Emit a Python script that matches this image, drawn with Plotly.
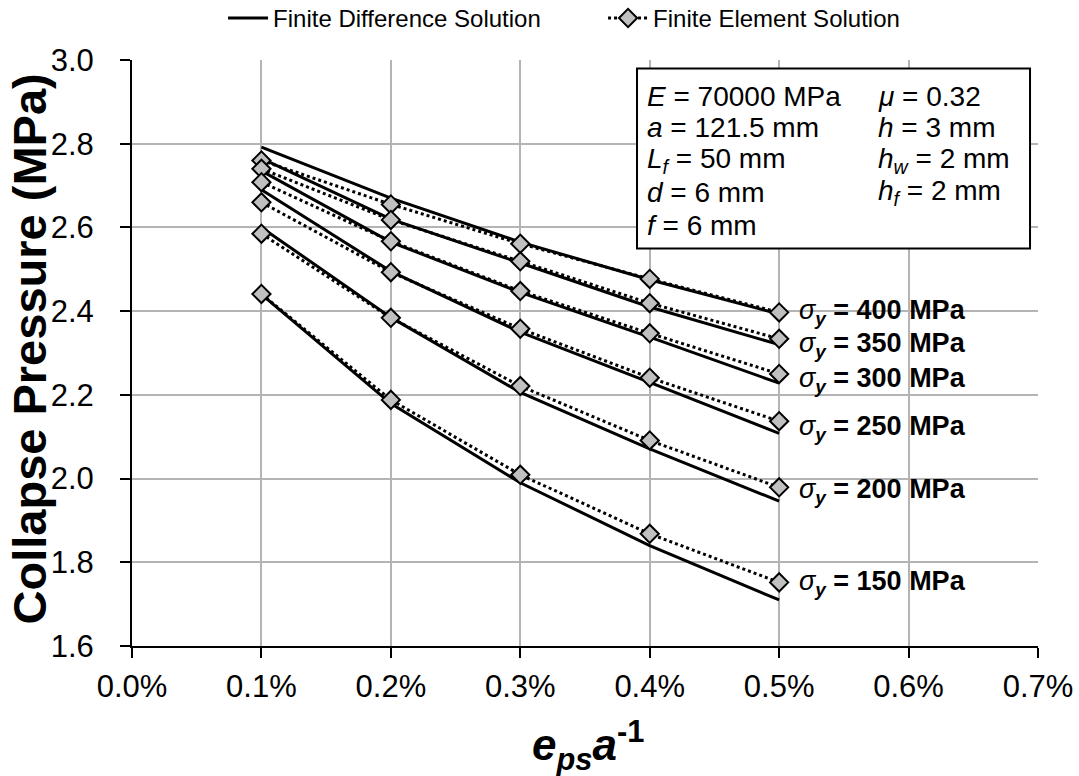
import plotly.graph_objects as go

# ---- data ----
strain = [0.001, 0.002, 0.003, 0.004, 0.005]
yield_labels = ["400", "350", "300", "250", "200", "150"]

fd_400 = [2.792, 2.670, 2.565, 2.475, 2.393]
fd_350 = [2.765, 2.620, 2.515, 2.410, 2.320]
fd_300 = [2.735, 2.565, 2.445, 2.338, 2.228]
fd_250 = [2.690, 2.495, 2.350, 2.230, 2.108]
fd_200 = [2.600, 2.385, 2.206, 2.071, 1.946]
fd_150 = [2.440, 2.179, 1.990, 1.840, 1.710]

fe_400 = [2.760, 2.655, 2.561, 2.477, 2.397]
fe_350 = [2.740, 2.618, 2.519, 2.419, 2.334]
fe_300 = [2.708, 2.567, 2.448, 2.347, 2.250]
fe_250 = [2.660, 2.493, 2.358, 2.241, 2.137]
fe_200 = [2.585, 2.384, 2.221, 2.091, 1.979]
fe_150 = [2.441, 2.188, 2.009, 1.868, 1.752]

fd_series = [fd_400, fd_350, fd_300, fd_250, fd_200, fd_150]
fe_series = [fe_400, fe_350, fe_300, fe_250, fe_200, fe_150]

x_ticks = [0.000, 0.001, 0.002, 0.003, 0.004, 0.005, 0.006, 0.007]
y_ticks = [1.6, 1.8, 2.0, 2.2, 2.4, 2.6, 2.8, 3.0]

FONT = "Liberation Sans, Arial, sans-serif"

# pixel nudges for the yield-stress labels (layout only)
label_yshift = [0, -6, -6, -7, -4, -1]

fig = go.Figure()

for i, ys in enumerate(fd_series):
    fig.add_trace(go.Scatter(
        x=strain, y=ys, mode="lines",
        line=dict(color="black", width=3),
        name="Finite Difference Solution",
        legendgroup="fd", showlegend=(i == 0),
    ))

for i, ys in enumerate(fe_series):
    fig.add_trace(go.Scatter(
        x=strain, y=ys, mode="lines+markers",
        line=dict(color="black", width=3, dash="dot"),
        marker=dict(symbol="diamond", size=14, color="#c0c0c0",
                    line=dict(color="black", width=2)),
        name="Finite Element Solution",
        legendgroup="fe", showlegend=(i == 0),
    ))

annotations = []

# sigma labels next to line ends
for lab, ys, sh in zip(yield_labels, fe_series, label_yshift):
    annotations.append(dict(
        x=0.734, xref="paper", y=ys[-1], yref="y",
        xanchor="left", yanchor="middle", yshift=sh,
        text="<i>σ</i><sub><b><i>y</i></b></sub><b> = %s MPa</b>" % lab,
        showarrow=False, font=dict(family=FONT, size=27, color="black"),
    ))

# parameter box text
left_col = ["<i>E</i> = 70000 MPa", "<i>a</i> = 121.5 mm",
            "<i>L</i><sub><i>f</i></sub> = 50 mm", "<i>d</i> = 6 mm",
            "<i>f</i> = 6 mm"]
right_col = ["<i>μ</i> = 0.32", "<i>h</i> = 3 mm",
             "<i>h</i><sub><i>w</i></sub> = 2 mm",
             "<i>h</i><sub><i>f</i></sub> = 2 mm"]
row_y = [0.9377, 0.8848, 0.8285, 0.7739, 0.7176]
for t, yy in zip(left_col, row_y):
    annotations.append(dict(x=0.566, y=yy, xref="paper", yref="paper",
                            xanchor="left", yanchor="middle", text=t,
                            showarrow=False,
                            font=dict(family=FONT, size=28, color="black")))
for t, yy in zip(right_col, row_y):
    annotations.append(dict(x=0.821, y=yy, xref="paper", yref="paper",
                            xanchor="left", yanchor="middle", text=t,
                            showarrow=False,
                            font=dict(family=FONT, size=28, color="black")))

# axis titles
annotations.append(dict(
    x=-0.1126, y=0.5077, xref="paper", yref="paper", textangle=-90,
    xanchor="center", yanchor="middle", showarrow=False,
    text="<b>Collapse Pressure (MPa)</b>",
    font=dict(family=FONT, size=47, color="black")))
annotations.append(dict(
    x=0.503, y=-0.17, xref="paper", yref="paper",
    xanchor="center", yanchor="middle", showarrow=False,
    text="<b><i>e</i></b><sub><b><i>ps</i></b></sub><b><i>a</i></b><sup><b>-1</b></sup>",
    font=dict(family=FONT, size=44, color="black")))

shapes = [dict(type="rect", xref="paper", yref="paper",
               x0=0.5574, x1=0.9912, y0=0.6783, y1=0.9855,
               line=dict(color="black", width=2), fillcolor="white",
               layer="above")]

fig.update_layout(
    width=1079, height=776,
    margin=dict(l=132, r=41, t=60, b=130, autoexpand=False),
    paper_bgcolor="white", plot_bgcolor="white",
    font=dict(family=FONT, color="black"),
    showlegend=True,
    legend=dict(orientation="h", x=0.1005, xanchor="left",
                y=1.071, yanchor="middle",
                font=dict(family=FONT, size=24, color="black"),
                bgcolor="rgba(0,0,0,0)", entrywidth=325, itemwidth=40),
    annotations=annotations,
    shapes=shapes,
)

fig.update_xaxes(
    range=[0, 0.007], tickvals=x_ticks, tickformat=".1%",
    showgrid=True, gridcolor="#b4b4b4", gridwidth=1.5,
    showline=True, linecolor="black", linewidth=2,
    ticks="outside", ticklen=10, tickwidth=1.5, tickcolor="black",
    ticklabelstandoff=2,
    tickfont=dict(family=FONT, size=31, color="black"), zeroline=False,
)
fig.update_yaxes(
    range=[1.6, 3.0], tickvals=y_ticks, tickformat=".1f",
    showgrid=True, gridcolor="#b4b4b4", gridwidth=1.5,
    showline=True, linecolor="black", linewidth=2,
    ticks="outside", ticklen=10, tickwidth=1.5, tickcolor="black",
    ticklabelstandoff=20,
    tickfont=dict(family=FONT, size=31, color="black"), zeroline=False,
)

fig.write_html("out.html")
